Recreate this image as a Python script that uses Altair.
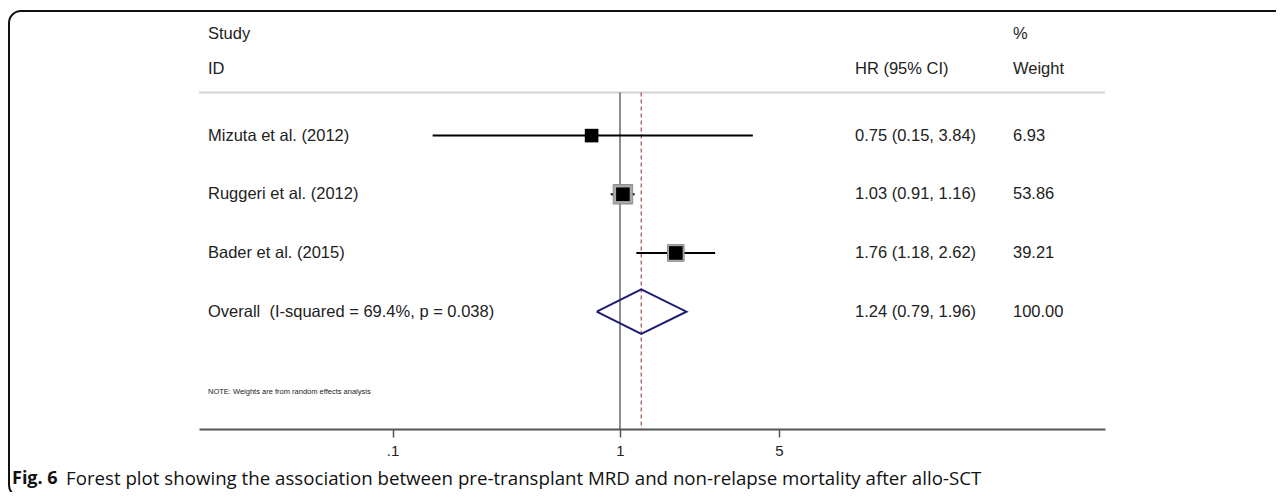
import altair as alt
import pandas as pd

# ---------------- data ----------------
studies = ["Mizuta et al. (2012)", "Ruggeri et al. (2012)", "Bader et al. (2015)"]
hr = [0.75, 1.03, 1.76]
ci_low = [0.15, 0.91, 1.18]
ci_high = [3.84, 1.16, 2.62]
weights = [6.93, 53.86, 39.21]

overall_label = "Overall\u00a0 (I-squared = 69.4%, p = 0.038)"
overall_hr = 1.24
overall_low = 0.79
overall_high = 1.96
overall_weight = 100.00

null_value = 1
tick_values = [0.1, 1, 5]
tick_labels = [".1", "1", "5"]

header_study = ["Study", "ID"]
header_hr = "HR (95% CI)"
header_weight = ["%", "Weight"]
note_text = "NOTE: Weights are from random effects analysis"
caption_bold = "Fig. 6"
caption_rest = ("Forest plot showing the association between pre-transplant MRD "
                "and non-relapse mortality after allo-SCT")

# ---------------- tables ----------------
rows = list(range(1, len(studies) + 1))
study_df = pd.DataFrame({
    "row": rows, "study": studies, "hr": hr, "lo": ci_low, "hi": ci_high,
    "weight": weights,
})
overall_row = len(studies) + 1
text_df = pd.DataFrame({
    "row": rows + [overall_row],
    "label": studies + [overall_label],
    "hrtxt": [f"{h:.2f} ({l:.2f}, {u:.2f})" for h, l, u in zip(hr, ci_low, ci_high)]
             + [f"{overall_hr:.2f} ({overall_low:.2f}, {overall_high:.2f})"],
    "wt": [f"{w:.2f}" for w in weights] + [f"{overall_weight:.2f}"],
})
HALF = 0.38  # half height of the diamond in row units
diamond_df = pd.DataFrame({
    "x": [overall_low, overall_hr, overall_high, overall_hr, overall_low],
    "y": [overall_row, overall_row - HALF, overall_row, overall_row + HALF, overall_row],
    "o": [0, 1, 2, 3, 4],
})
ref_df = pd.DataFrame({"v": [null_value]})
eff_df = pd.DataFrame({"v": [overall_hr]})
dummy = pd.DataFrame({"d": [0]})

# ---------------- layout ----------------
W, H = 906, 409
FONT = "Liberation Sans"
TXT = "#222222"

xscale = alt.Scale(type="log", domain=[0.01408, 135.8], nice=False)
yscale = alt.Scale(domain=[-0.97, 6.0], reverse=True, nice=False, zero=False)

expr = f"'{tick_labels[-1]}'"
for v, l in reversed(list(zip(tick_values[:-1], tick_labels[:-1]))):
    expr = f"datum.value == {v} ? '{l}' : {expr}"

xaxis = alt.Axis(values=tick_values, labelExpr=expr, grid=False, title=None,
                 domainColor="#555555", domainWidth=2, tickColor="#555555",
                 tickWidth=1.5, tickSize=8, labelFontSize=15, labelFont=FONT,
                 labelColor=TXT, labelPadding=6, labelFlush=False,
                 labelOverlap=False)
Y = alt.Y("row:Q", scale=yscale, axis=None)


def label(txt, x, y, size=16.5, font=FONT, weight="normal", color=TXT):
    return alt.Chart(dummy).mark_text(
        text=txt, align="left", baseline="middle", font=font,
        fontSize=size, fontWeight=weight, color=color
    ).encode(x=alt.value(x), y=alt.value(y))


frame = alt.Chart(dummy).mark_rect(
    fillOpacity=0, stroke="#111111", strokeWidth=2, cornerRadius=12
).encode(x=alt.value(-190), x2=alt.value(1095), y=alt.value(-9), y2=alt.value(477))

header_line = alt.Chart(dummy).mark_rule(color="#d4d4d4", strokeWidth=2).encode(
    x=alt.value(0), x2=alt.value(W), y=alt.value(72.5))

ref_line = alt.Chart(ref_df).mark_rule(color="#444444", strokeWidth=1.2).encode(
    x=alt.X("v:Q", scale=xscale, axis=xaxis), y=alt.value(72.5), y2=alt.value(H))

eff_line = alt.Chart(eff_df).mark_rule(color="#a0504f", strokeWidth=1.2,
                                       strokeDash=[4, 3]).encode(
    x=alt.X("v:Q", scale=xscale, axis=xaxis), y=alt.value(72.5), y2=alt.value(H))

ci = alt.Chart(study_df).mark_rule(color="black", strokeWidth=2).encode(
    x=alt.X("lo:Q", scale=xscale, axis=xaxis), x2="hi:Q", y=Y)

boxes = alt.Chart(study_df).mark_square(
    color="#a9a9a9", opacity=1, stroke="#8c8c8c", strokeWidth=1
).encode(
    x=alt.X("hr:Q", scale=xscale, axis=xaxis), y=Y,
    size=alt.Size("weight:Q", legend=None,
                  scale=alt.Scale(domain=[0, max(weights)], range=[0, 380])))

points = alt.Chart(study_df).mark_square(color="black", opacity=1, size=185).encode(
    x=alt.X("hr:Q", scale=xscale, axis=xaxis), y=Y)

diamond = alt.Chart(diamond_df).mark_line(color="#1c1c78", strokeWidth=2).encode(
    x=alt.X("x:Q", scale=xscale, axis=xaxis),
    y=alt.Y("y:Q", scale=yscale, axis=None), order="o:Q")

tstyle = dict(align="left", baseline="middle", font=FONT, fontSize=16.5, color=TXT)
t_label = alt.Chart(text_df).mark_text(**tstyle).encode(x=alt.value(9), y=Y, text="label:N")
t_hr = alt.Chart(text_df).mark_text(**tstyle).encode(x=alt.value(656), y=Y, text="hrtxt:N")
t_wt = alt.Chart(text_df).mark_text(**tstyle).encode(x=alt.value(814), y=Y, text="wt:N")

headers = [
    label(header_study[0], 9, 14), label(header_study[1], 9, 49),
    label(header_hr, 656, 49),
    label(header_weight[0], 814, 14), label(header_weight[1], 814, 49),
    label(note_text, 9, 372, size=7.5),
    label(caption_bold, -187, 459, size=18, font="Open Sans", weight="bold", color="#111111"),
    label(caption_rest, -133, 459, size=18.7, font="Open Sans", color="#111111"),
]

chart = alt.layer(
    frame, header_line, ref_line, eff_line, ci, boxes, points, diamond,
    t_label, t_hr, t_wt, *headers
).properties(
    width=W, height=H,
    padding={"left": 191, "top": 12, "right": 171, "bottom": 63},
    autosize=alt.AutoSizeParams(type="none"),
    background="white",
).configure_view(stroke=None)

chart.save("out.html", embed_options={"renderer": "svg", "actions": False})
